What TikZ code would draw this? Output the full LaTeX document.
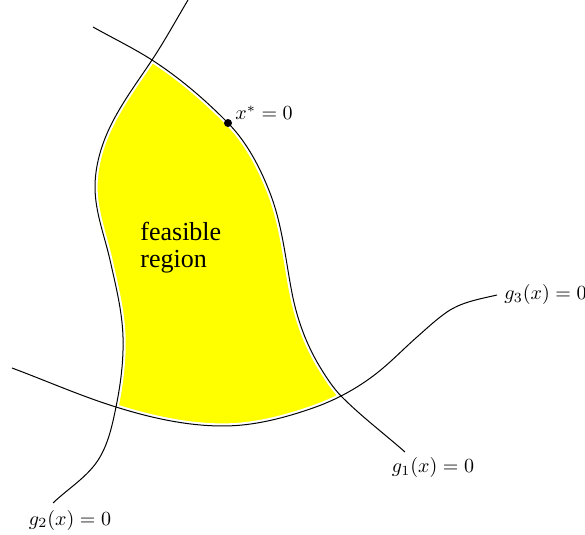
\documentclass[tikz,border=0pt]{standalone}
\usepackage{fontspec}
\newfontfamily\featfont{Liberation Serif}
\definecolor{feasyellow}{RGB}{255,255,0}
\tikzset{
  curveA/.style={insert path={(93,27) .. controls (112.6,38.0) and (133.1,47.9) .. (152,60)
     .. controls (179.6,77.8) and (205,99.6) .. (228,123)
     .. controls (247,142.3) and (260.2,167.7) .. (270,193)
     .. controls (282.3,224.7) and (285.5,259.6) .. (292,293)
     .. controls (297,318.9) and (306.3,344.6) .. (320,367)
     .. controls (326.4,377.5) and (333.2,388.2) .. (342,397)
     .. controls (361.8,416.8) and (384.1,433.6) .. (405,452)}},
  curveB/.style={insert path={(188,0) .. controls (176.1,20.0) and (164.8,40.7) .. (152,60)
     .. controls (137.5,81.9) and (121.4,103.2) .. (110,127)
     .. controls (101.1,145.5) and (95,166.4) .. (95,187)
     .. controls (95,211.8) and (104.5,235.7) .. (110,260)
     .. controls (115.7,285.5) and (122.2,311) .. (123,337)
     .. controls (123.7,360.4) and (120.7,384.1) .. (116,407)
     .. controls (112.5,424.2) and (108.75,441.8) .. (100,457)
     .. controls (89,476.1) and (68.8,487.9) .. (53,503)}},
  curveC/.style={insert path={(12,368) .. controls (46.8,381) and (80.7,396) .. (116,407)
     .. controls (150.5,417.8) and (186.8,426) .. (223,426)
     .. controls (253.6,426) and (284.1,418.1) .. (313,408)
     .. controls (335.9,400) and (357.8,388.1) .. (377,373)
     .. controls (391.1,361.9) and (403.6,348.8) .. (417,337)
     .. controls (426.75,328.4) and (436.3,319.4) .. (447,312)
     .. controls (461.4,302) and (479.9,299) .. (497,295)}},
  gap/.style={draw=white,line width=2.6pt},
  curve/.style={draw=black,line width=0.5pt},
  lbl/.style={inner sep=0pt,font=\fontsize{10}{12}\selectfont},
  feas/.style={inner sep=0pt,anchor=base west,font=\featfont\fontsize{13}{14}\selectfont}
}
\begin{document}
\begin{tikzpicture}[x=0.5pt,y=-0.5pt]
\useasboundingbox (0,0) rectangle (585,535);
% feasible region
\begin{scope}
  \clip[curveA] -- (405,535) -- (0,535) -- (0,27) -- cycle;
  \clip[curveB] -- (53,535) -- (585,535) -- (585,0) -- cycle;
  \clip[curveC] -- (497,0) -- (12,0) -- cycle;
  \fill[feasyellow] (0,0) rectangle (585,535);
\end{scope}
% white gaps
\path[gap,curveA];
\path[gap,curveB];
\path[gap,curveC];
% curves
\path[curve,curveA];
\path[curve,curveB];
\path[curve,curveC];
% optimum
\coordinate (xs) at (228,123);
\fill (xs) circle[radius=2pt];
\node (xslbl) [lbl,anchor=west] at (235,113) {$x^{*}=0$};
% labels
\node (g1lbl) [lbl] at (433,468) {$g_1(x)=0$};
\node (g2lbl) [lbl] at (70,520) {$g_2(x)=0$};
\node (g3lbl) [lbl,anchor=west] at (504,295) {$g_3(x)=0$};
\node (feas1) [feas] at (140,241) {feasible};
\node (feas2) [feas] at (140,268) {region};
\end{tikzpicture}
\end{document}
